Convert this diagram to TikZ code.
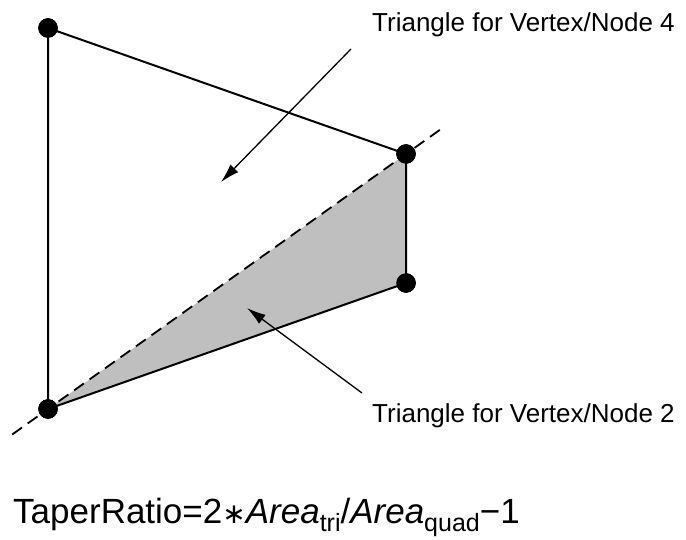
\documentclass[tikz,border=0pt]{standalone}
\usepackage{fontspec}
\setmainfont{Liberation Sans}
\newfontfamily\symfont{DejaVu Sans}
\usetikzlibrary{calc,arrows.meta}
\definecolor{trifill}{gray}{0.75}
\begin{document}
\begin{tikzpicture}[x=1pt, y=-1pt,
    vertex/.style={draw, circle, fill=black, minimum size=19pt, inner sep=0pt},
    edge/.style={line width=2pt},
    diag/.style={line width=1.8pt, dash pattern=on 12pt off 7pt},
    pointer/.style={line width=1.3pt, -{Latex[length=19pt, width=11pt]}},
    lbl/.style={anchor=base west, inner sep=0pt, font=\fontsize{26}{30}\selectfont}]
        \useasboundingbox (0,0) rectangle (686,540);

        % Sommets du quadrilatere
        \node[vertex] (v1) at (48,409) {};
        \node[vertex] (v2) at (406,283) {};
        \node[vertex] (v3) at (406,154) {};
        \node[vertex] (v4) at (48,28) {};

        % Triangle grise (sommet 2)
        \fill[trifill] (v1.center) -- (v2.center) -- (v3.center) -- cycle;

        % Diagonale en pointille
        \coordinate (dA) at ($(v1)!-0.1!(v3)$);
        \coordinate (dB) at ($(v3)!-0.1!(v1)$);
        \draw[diag] (dA) -- (dB);

        % Aretes
        \draw[edge] (v4.center) -- (v3.center) -- (v2.center) -- (v1.center) -- (v4.center);
        \foreach \v in {v1,v2,v3,v4}
            \node[vertex] at (\v) {};

        % Legendes et fleches
        \node[lbl] (t4) at (372,32) {Triangle for Vertex/Node 4};
        \node[lbl] (t2) at (372,422) {Triangle for Vertex/Node 2};
        \coordinate (p4a) at (351,49);
        \coordinate (p4b) at (221,182);
        \coordinate (p2a) at (362,393);
        \coordinate (p2b) at (247,308);
        \draw[pointer] (p4a) -- (p4b);
        \draw[pointer] (p2a) -- (p2b);

        % Formule
        \node[lbl, font=\fontsize{35}{40}\selectfont] (eq) at (13,523)
            {TaperRatio=2{\symfont\fontsize{28}{30}\selectfont ∗}\textit{Area}\raisebox{-8pt}{\fontsize{25}{28}\selectfont tri}/\textit{Area}\raisebox{-8pt}{\fontsize{25}{28}\selectfont quad}−1};
    \end{tikzpicture}
\end{document}
